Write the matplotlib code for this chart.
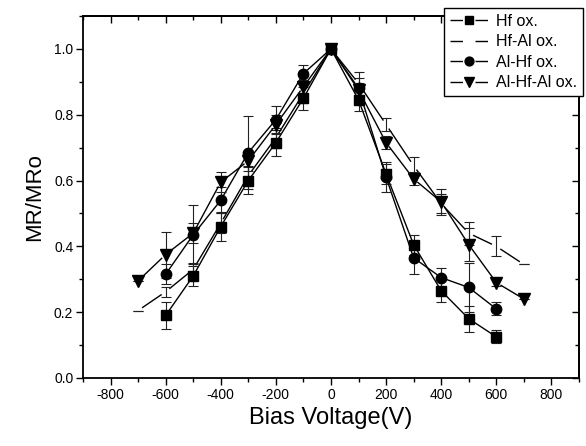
import numpy as np
import matplotlib
matplotlib.use('Agg')
import matplotlib.pyplot as plt
from matplotlib.lines import Line2D

plt.rcParams['font.family'] = ['Liberation Sans', 'DejaVu Sans']
plt.rcParams['axes.unicode_minus'] = False

# Bias voltage (V)
v_hf = [-600, -500, -400, -300, -200, -100, 0, 100, 200, 300, 400, 500, 600]
v_hfal = [-700, -600, -500, -400, -300, -200, -100, 0, 100, 200, 300, 400, 500, 600, 700]
v_alhf = [-600, -500, -400, -300, -200, -100, 0, 100, 200, 300, 400, 500, 600]
v_alhfal = [-700, -600, -500, -400, -300, -200, -100, 0, 100, 200, 300, 400, 500, 600, 700]

# normalised MR and error bars
mr_hf = [0.19, 0.31, 0.46, 0.60, 0.715, 0.85, 1.0, 0.845, 0.62, 0.405, 0.265, 0.18, 0.125]
err_hf = [0.04, 0.03, 0.045, 0.04, 0.04, 0.035, 0.01, 0.035, 0.03, 0.03, 0.035, 0.04, 0.02]

mr_hfal = [0.205, 0.262, 0.33, 0.47, 0.615, 0.73, 0.865, 1.0, 0.895, 0.77, 0.645, 0.53, 0.44, 0.40, 0.345]
err_hfal = [0.0, 0.015, 0.02, 0.03, 0.03, 0.03, 0.03, 0.0, 0.035, 0.02, 0.025, 0.03, 0.035, 0.03, 0.0]

mr_alhf = [0.315, 0.435, 0.54, 0.685, 0.785, 0.925, 1.0, 0.88, 0.61, 0.365, 0.305, 0.275, 0.21]
err_alhf = [0.03, 0.09, 0.04, 0.11, 0.04, 0.025, 0.0, 0.03, 0.045, 0.05, 0.03, 0.075, 0.02]

mr_alhfal = [0.295, 0.375, 0.44, 0.595, 0.66, 0.77, 0.885, 1.0, 0.875, 0.715, 0.605, 0.535, 0.405, 0.29, 0.24]
err_alhfal = [0.0, 0.07, 0.03, 0.03, 0.03, 0.03, 0.02, 0.0, 0.02, 0.02, 0.02, 0.04, 0.05, 0.01, 0.0]

labels = ['Hf ox.', 'Hf-Al ox.', 'Al-Hf ox.', 'Al-Hf-Al ox.']
markers = ['s', None, 'o', 'v']
msizes = [7, 0, 7.5, 8.5]


def gapped_line(ax, xs, ys, gap=5.5, **kw):
    """ draw the line as separate segments that stop short of each point (Origin style) """
    tr = ax.transData
    inv = tr.inverted()
    pts = tr.transform(np.column_stack([xs, ys]))
    for p0, p1 in zip(pts[:-1], pts[1:]):
        d = p1 - p0
        n = np.hypot(*d)
        if n <= 2 * gap:
            continue
        u = d / n
        a = inv.transform(p0 + u * gap)
        b = inv.transform(p1 - u * gap)
        ax.plot([a[0], b[0]], [a[1], b[1]], color='black', lw=1.0, **kw)


fig = plt.figure(figsize=(5.86, 4.46), dpi=100)
ax = fig.add_axes([0.1416, 0.1525, 0.8464, 0.8117])
ax.set_xlim(-900, 900)
ax.set_ylim(0, 1.1)

series = [(v_hf, mr_hf, err_hf), (v_hfal, mr_hfal, err_hfal),
          (v_alhf, mr_alhf, err_alhf), (v_alhfal, mr_alhfal, err_alhfal)]

for (xs, ys, es), m, ms in zip(series, markers, msizes):
    gapped_line(ax, xs, ys)
    ax.errorbar(xs, ys, yerr=es, fmt='none', ecolor='#222222', elinewidth=0.8,
                capsize=3.5, capthick=0.8, zorder=2)
    if m is not None:
        ax.plot(xs, ys, linestyle='none', marker=m, ms=ms, color='black', zorder=3)

# ticks
ax.set_xticks(np.arange(-800, 801, 200))
ax.set_xticks(np.arange(-900, 901, 100), minor=True)
ax.set_yticks(np.arange(0, 1.01, 0.2))
ax.set_yticks(np.arange(0, 1.11, 0.1), minor=True)
ax.set_yticklabels(['%.1f' % t for t in np.arange(0, 1.01, 0.2)])
ax.tick_params(which='both', direction='out', labelsize=10, width=1)
ax.tick_params(which='major', length=5, pad=2)
ax.tick_params(which='minor', length=3)

ax_t = ax.secondary_xaxis('top')
ax_t.set_xticks(np.arange(-800, 801, 200))
ax_t.set_xticks(np.arange(-900, 901, 100), minor=True)
ax_t.tick_params(which='both', direction='in', labeltop=False, width=1)
ax_t.tick_params(which='major', length=5)
ax_t.tick_params(which='minor', length=3)
ax_r = ax.secondary_yaxis('right')
ax_r.set_yticks(np.arange(0, 1.01, 0.2))
ax_r.set_yticks(np.arange(0, 1.11, 0.1), minor=True)
ax_r.tick_params(which='both', direction='in', labelright=False, width=1)
ax_r.tick_params(which='major', length=5)
ax_r.tick_params(which='minor', length=3)

for s in ax.spines.values():
    s.set_linewidth(1.3)
for a in (ax_t, ax_r):
    for s in a.spines.values():
        s.set_linewidth(1.3)

ax.set_xlabel('Bias Voltage(V)', fontsize=17, labelpad=4)
ax.set_ylabel('MR/MRo', fontsize=16, labelpad=6)

# legend with Origin-like gapped handles
handles = []
for m, ms in zip(markers, msizes):
    handles.append(Line2D([], [], color='black', lw=1.0, linestyle=(0, (9, 9, 9, 100)),
                          marker=m if m else None, ms=ms * 0.85))
leg = fig.legend(handles, labels, loc='upper right', bbox_to_anchor=(583 / 586, 1 - 8 / 446),
                 bbox_transform=fig.transFigure, borderaxespad=0, fontsize=11.5,
                 handlelength=2.4, handletextpad=0.5, labelspacing=0.35,
                 fancybox=False, framealpha=1, edgecolor='black', borderpad=0.35)
leg.get_frame().set_linewidth(1.0)

fig.savefig('out.png', dpi=100)
